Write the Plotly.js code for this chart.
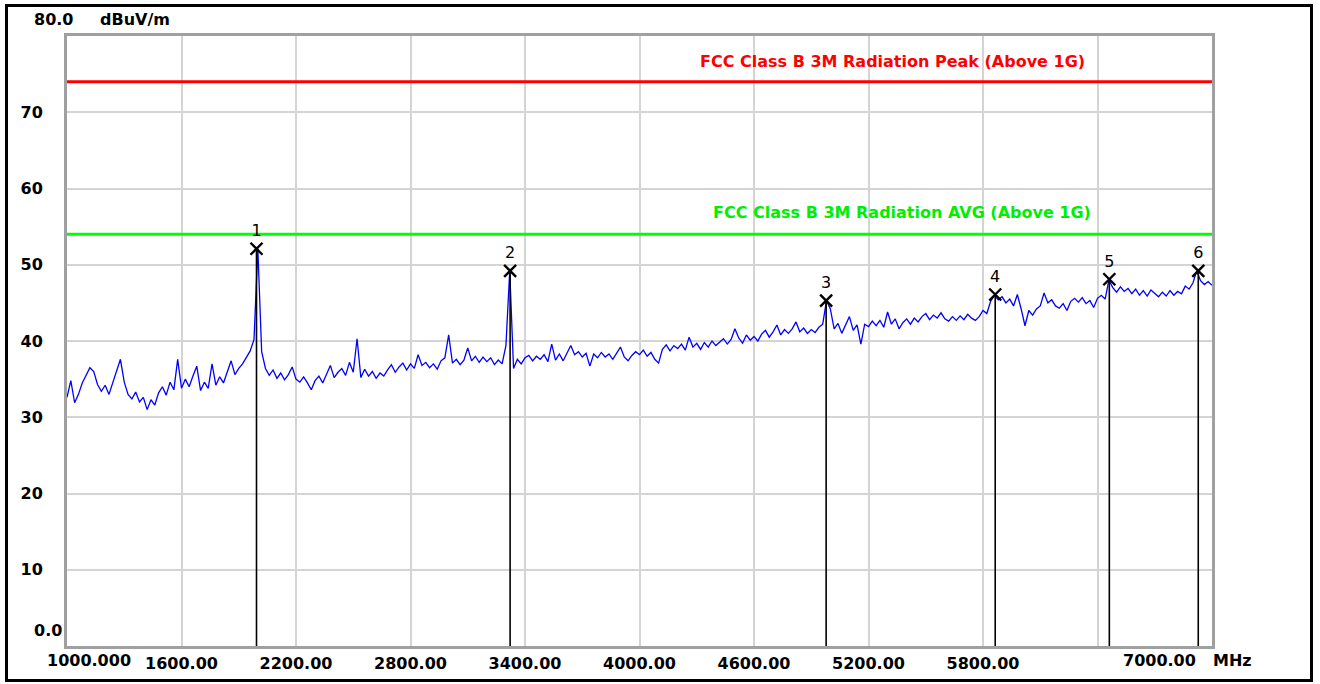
<!DOCTYPE html>
<html><head><meta charset="utf-8">
<script src="https://cdn.plot.ly/plotly-3.0.1.min.js"></script>
<style>
html,body{margin:0;padding:0;background:#fff;}
#wrap{position:relative;width:1320px;height:684px;}
#chart{position:absolute;left:0;top:0;width:1320px;height:684px;}
#frame{position:absolute;left:5px;top:4px;width:1308px;height:678px;box-sizing:border-box;border:3px solid #000;pointer-events:none;}
</style></head><body>
<div id="wrap"><div id="chart"></div><div id="frame"></div></div>
<script>
// Sweep: 1000 MHz to 7000 MHz, 20 MHz per point
const freqStart = 1000, freqStep = 20;
const level = [
 32.6,34.8,31.9,33.0,34.5,35.6,36.5,36.0,34.3,33.4,
 34.2,33.0,34.5,35.8,37.6,34.6,33.0,32.4,33.3,32.0,
 32.6,31.0,32.3,31.6,33.2,34.0,32.9,34.6,33.6,37.6,
 33.8,35.0,34.0,35.4,36.7,33.5,34.6,33.8,37.0,34.2,
 35.3,34.5,36.0,37.4,35.6,36.4,37.0,37.9,38.7,40.2,
 52.1,38.6,36.4,35.5,36.2,35.1,35.8,34.9,35.6,36.6,
 35.0,34.6,35.3,34.5,33.6,34.8,35.4,34.5,35.7,36.8,
 35.2,35.9,36.4,35.5,37.2,35.9,40.3,35.2,36.3,35.4,
 36.0,35.1,35.8,35.4,36.2,36.9,35.9,36.6,37.1,36.2,
 37.0,36.4,38.2,36.8,37.2,36.5,37.0,36.3,37.4,37.8,
 40.8,37.1,37.6,36.9,37.5,39.1,37.4,38.0,37.2,37.9,
 37.3,37.8,36.9,37.5,37.0,39.4,49.2,36.4,37.6,37.0,
 37.8,38.1,37.4,38.0,37.6,38.2,37.3,39.6,37.5,38.3,
 37.4,38.5,39.4,38.2,38.6,37.9,38.4,36.7,38.3,37.8,
 38.5,37.9,38.3,37.6,38.4,39.2,37.9,37.4,38.1,38.6,
 38.2,38.8,38.0,38.5,37.6,37.1,38.9,39.5,38.7,39.4,
 39.0,39.6,38.8,40.5,39.2,39.7,38.9,39.8,39.2,40.0,
 39.4,39.9,40.3,39.6,40.2,41.6,40.4,39.7,40.8,40.1,
 40.6,40.0,40.9,41.4,40.5,41.2,42.1,40.8,41.5,41.0,
 41.6,42.5,41.2,41.7,41.0,41.5,41.1,41.8,42.2,45.3,
 44.2,41.6,42.3,41.0,42.0,43.2,41.4,42.1,39.6,42.2,
 41.9,42.6,42.0,42.7,41.8,43.8,42.2,42.9,41.6,42.4,
 42.9,42.2,43.0,42.5,43.2,43.6,42.8,43.4,43.0,43.7,
 42.9,42.6,43.2,42.7,43.3,42.8,43.5,43.0,42.7,43.2,
 44.0,43.6,45.2,46.0,45.4,45.8,45.0,45.5,44.6,46.1,
 44.2,42.0,44.0,43.4,44.2,44.6,46.3,45.0,45.4,44.6,
 44.3,44.9,44.0,45.2,45.6,45.1,45.7,44.9,45.3,44.4,
 45.6,46.0,45.5,48.0,47.0,46.4,47.1,46.5,46.9,46.2,
 46.8,46.0,46.6,45.9,46.7,46.2,45.8,46.4,45.9,46.6,
 46.0,46.5,46.2,47.2,46.8,47.6,49.2,47.9,47.4,47.8,47.3
];
const freq = level.map((_, i) => freqStart + i * freqStep);

const markerFreq = [1993, 3322, 4978, 5864, 6462, 6928];
const markerLevel = [52.1, 49.2, 45.3, 46.1, 48.1, 49.2];
const markerLabel = ['1', '2', '3', '4', '5', '6'];

const peakLimit = 74;
const avgLimit = 54;
const peakLimitName = 'FCC Class B 3M Radiation Peak (Above 1G)';
const avgLimitName = 'FCC Class B 3M Radiation AVG (Above 1G)';

const xTickVals = [1000, 1600, 2200, 2800, 3400, 4000, 4600, 5200, 5800, 6400, 7000];
const xTickText = ['', '1600.00', '2200.00', '2800.00', '3400.00', '4000.00', '4600.00', '5200.00', '5800.00', '', ''];
const yTickVals = [0, 10, 20, 30, 40, 50, 60, 70, 80];
const yTickText = ['', '10', '20', '30', '40', '50', '60', '70', ''];
const xMin = 1000, xMax = 7000, yMin = 0, yMax = 80;

const FONT = 'DejaVu Sans';

const stemX = [], stemY = [];
markerFreq.forEach((f, i) => { stemX.push(f, f, null); stemY.push(markerLevel[i], yMin, null); });

const traces = [
  {x: [xMin, xMax], y: [peakLimit, peakLimit], mode: 'lines', line: {color: '#ff0000', width: 3}, hoverinfo: 'skip'},
  {x: [xMin, xMax], y: [avgLimit, avgLimit], mode: 'lines', line: {color: '#00ff00', width: 3}, hoverinfo: 'skip'},
  {x: freq, y: level, mode: 'lines', line: {color: '#0000ff', width: 1.3}},
  {x: stemX, y: stemY, mode: 'lines', line: {color: '#000000', width: 1.6}, hoverinfo: 'skip'},
  {x: markerFreq, y: markerLevel, mode: 'markers+text', text: markerLabel, textposition: 'top center',
   textfont: {family: FONT, size: 16, color: '#000'}, cliponaxis: false,
   marker: {symbol: 'x-thin', size: 12, line: {color: '#000', width: 2.4}, color: '#000'}}
];

const axisCommon = {
  showgrid: true, gridcolor: '#d4d4d4', gridwidth: 2,
  showline: true, mirror: true, linecolor: '#a0a0a0', linewidth: 3,
  zeroline: false, ticks: '', tickmode: 'array',
  tickfont: {family: FONT, size: 16, color: '#000', weight: 'bold'}
};

const boldFont = {family: FONT, size: 16, color: '#000', weight: 'bold'};

const layout = {
  width: 1320, height: 684,
  margin: {l: 67, r: 108, t: 36, b: 38, pad: 0},
  paper_bgcolor: '#ffffff', plot_bgcolor: '#ffffff',
  showlegend: false,
  font: {family: FONT, size: 16, color: '#000'},
  xaxis: Object.assign({}, axisCommon, {range: [xMin, xMax], tickvals: xTickVals, ticktext: xTickText, ticklabelstandoff: 1}),
  yaxis: Object.assign({}, axisCommon, {range: [yMin, yMax], tickvals: yTickVals, ticktext: yTickText, ticklabelstandoff: 18}),
  annotations: [
    {xref: 'paper', yref: 'paper', x: -0.031, y: 1.027, xanchor: 'left', yanchor: 'middle', text: yMax.toFixed(1), showarrow: false, font: boldFont},
    {xref: 'paper', yref: 'paper', x: 0.027, y: 1.027, xanchor: 'left', yanchor: 'middle', text: 'dBuV/m', showarrow: false, font: boldFont},
    {xref: 'paper', yref: 'paper', x: -0.031, y: 0.0246, xanchor: 'left', yanchor: 'middle', text: yMin.toFixed(1), showarrow: false, font: boldFont},
    {xref: 'paper', yref: 'paper', x: 0.0192, y: -0.0230, xanchor: 'center', yanchor: 'middle', text: xMin.toFixed(3), showarrow: false, font: boldFont},
    {xref: 'paper', yref: 'paper', x: 0.9545, y: -0.0230, xanchor: 'center', yanchor: 'middle', text: xMax.toFixed(2), showarrow: false, font: boldFont},
    {xref: 'paper', yref: 'paper', x: 0.999, y: -0.0230, xanchor: 'left', yanchor: 'middle', text: 'MHz', showarrow: false, font: boldFont},
    {xref: 'x', yref: 'y', x: 6345, y: 76.7, xanchor: 'right', yanchor: 'middle', text: peakLimitName, showarrow: false,
     font: {family: FONT, size: 16, color: '#ff0000', weight: 'bold'}},
    {xref: 'x', yref: 'y', x: 6376, y: 56.8, xanchor: 'right', yanchor: 'middle', text: avgLimitName, showarrow: false,
     font: {family: FONT, size: 16, color: '#00ee00', weight: 'bold'}}
  ]
};

Plotly.newPlot('chart', traces, layout, {displayModeBar: false, staticPlot: true});
</script>
</body></html>
